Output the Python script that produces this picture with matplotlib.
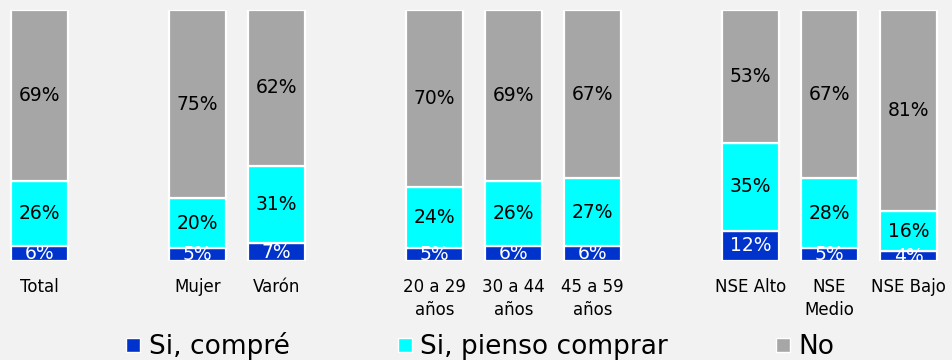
import matplotlib
matplotlib.use("Agg")
import matplotlib.pyplot as plt
from matplotlib.lines import Line2D
import numpy as np

plt.rcParams['font.family'] = ['DejaVu Sans']

categories = ["Total", "", "Mujer", "Varón", "", "20 a 29\naños", "30 a 44\naños", "45 a 59\naños", "", "NSE Alto", "NSE\nMedio", "NSE Bajo"]
si_compre = [6, None, 5, 7, None, 5, 6, 6, None, 12, 5, 4]
si_pienso = [26, None, 20, 31, None, 24, 26, 27, None, 35, 28, 16]
no_vals = [69, None, 75, 62, None, 70, 69, 67, None, 53, 67, 81]
series_names = ["Si, compré", "Si, pienso comprar", "No"]
colors = ["#0033cc", "#00ffff", "#a6a6a6"]
label_colors = ["white", "black", "black"]

bg = "#f2f2f2"
fig = plt.figure(figsize=(9.53, 3.6), dpi=100, facecolor=bg)
ax = fig.add_axes([0.0, 1 - 261/360, 948/953, 251/360])
ax.set_facecolor(bg)

idx = [i for i, v in enumerate(si_compre) if v is not None]
data = np.array([[si_compre[i], si_pienso[i], no_vals[i]] for i in idx], dtype=float)
totals = data.sum(axis=1)
fracs = data / totals[:, None] * 100

bottom = np.zeros(len(idx))
for s in range(3):
    bars = ax.bar(idx, fracs[:, s], bottom=bottom, width=0.71, color=colors[s],
                  edgecolor="white", linewidth=1.6, label=series_names[s], zorder=2)
    for j, b in enumerate(bars):
        y = bottom[j] + fracs[j, s] / 2
        ax.text(idx[j], y, f"{int(data[j, s])}%", ha="center", va="center",
                fontsize=13.5, color=label_colors[s], zorder=3, clip_on=False)
    bottom += fracs[:, s]

ax.set_xlim(-0.5, 11.5)
ax.set_ylim(0, 100)
ax.set_xticks(range(len(categories)))
ax.set_xticklabels(categories, fontsize=12, linespacing=1.4)
ax.tick_params(axis="x", length=0, pad=12)
ax.set_yticks([])
for sp in ax.spines.values():
    sp.set_visible(False)

handles = [Line2D([0], [0], marker="s", linestyle="none", markersize=10,
                  markerfacecolor=c, markeredgecolor="white", markeredgewidth=1)
           for c in colors]
fig.legend(handles, series_names, loc="center", bbox_to_anchor=(0.503, 1 - 346/360),
           ncol=3, frameon=False, fontsize=19, columnspacing=4.0, handletextpad=0.25,
           handlelength=0.7)

fig.savefig("out.png", dpi=100, facecolor=bg)
